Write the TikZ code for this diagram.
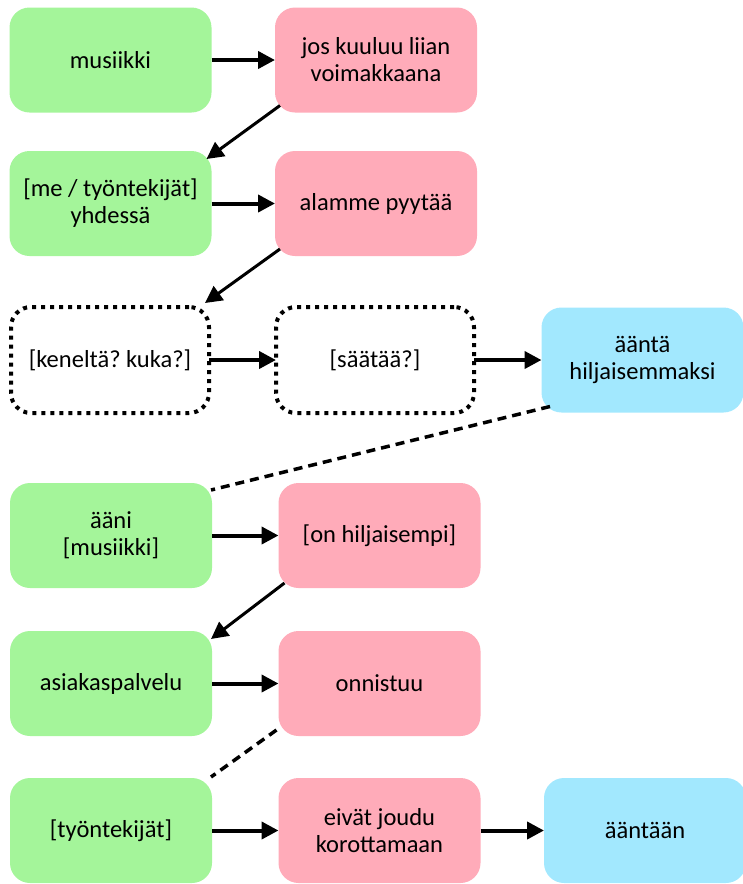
\documentclass[tikz,border=0pt]{standalone}
\usepackage{fontspec}
\setmainfont{Carlito}
\usetikzlibrary{arrows.meta,calc}
\definecolor{gfill}{RGB}{164,245,154}
\definecolor{pfill}{RGB}{255,171,185}
\definecolor{bfill}{RGB}{162,232,254}
\begin{document}
\frenchspacing
\begin{tikzpicture}[x=1pt,y=1pt,
 box/.style={rounded corners=20pt, minimum width=202pt, minimum height=105pt, align=center,
   font=\fontsize{24.5}{27}\selectfont, inner sep=0pt, outer sep=0pt},
 gbox/.style={box, fill=gfill},
 pbox/.style={box, fill=pfill},
 bbox/.style={box, fill=bfill},
 qbox/.style={box, minimum width=198pt, minimum height=106pt, draw=black, line width=4pt, dash pattern=on 4pt off 5pt},
 harrow/.style={-{Triangle[length=17pt,width=17pt]}, line width=4pt},
 darrow/.style={-{Triangle[length=17pt,width=17pt]}, line width=3pt},
 dline/.style={line width=3.5pt, dash pattern=on 9pt off 6pt}]
\useasboundingbox (0,0) rectangle (743,-884);
% row 1
\node[gbox] (g1) at (110.5,-60) {musiikki};
\node[pbox] (p1) at (376,-60) {jos kuuluu liian\\voimakkaana};
% row 2
\node[gbox] (g2) at (110.5,-203.5) {[me / työntekijät]\\yhdessä};
\node[pbox] (p2) at (376,-203.5) {alamme pyytää};
% row 3
\node[qbox] (q1) at (110,-360) {[keneltä? kuka?]};
\node[qbox] (q2) at (375,-360) {[säätää?]};
\node[bbox] (b3) at (642.5,-360) {ääntä\\hiljaisemmaksi};
% row 4
\node[gbox] (g4) at (111,-535.5) {ääni\\[0pt][musiikki]};
\node[pbox] (p4) at (379.5,-535.5) {[on hiljaisempi]};
% row 5
\node[gbox] (g5) at (111,-683.5) {asiakaspalvelu};
\node[pbox] (p5) at (379.5,-683.5) {onnistuu};
% row 6
\node[gbox] (g6) at (111,-830.5) {[työntekijät]};
\node[pbox] (p6) at (379.5,-830.5) {eivät joudu\\korottamaan};
\node[bbox] (b6) at (645,-830.5) {ääntään};
% horizontal arrows
\draw[harrow] (g1) -- (p1);
\draw[harrow] (g2) -- (p2);
\draw[harrow] (q1) -- (q2);
\draw[harrow] (q2) -- (b3);
\draw[harrow] (g4) -- (p4);
\draw[harrow] (g5) -- (p5);
\draw[harrow] (g6) -- (p6);
\draw[harrow] (p6) -- (b6);
% diagonal arrows
\draw[darrow] ([shift={(5,7)}]p1.south west) -- ([shift={(-5,-8)}]g2.north east);
\draw[darrow] ([shift={(5,7)}]p2.south west) -- ([shift={(-4,4)}]q1.north east);
\draw[darrow] ([shift={(6,5)}]p4.south west) -- ([shift={(-1,-8)}]g5.north east);
% dashed lines
\draw[dline] ([shift={(8.5,6)}]b3.south west) -- ([shift={(-1,-7)}]g4.north east);
\draw[dline] ([shift={(-2,6)}]p5.south west) -- ([shift={(-1,1)}]g6.north east);
\end{tikzpicture}
\end{document}
